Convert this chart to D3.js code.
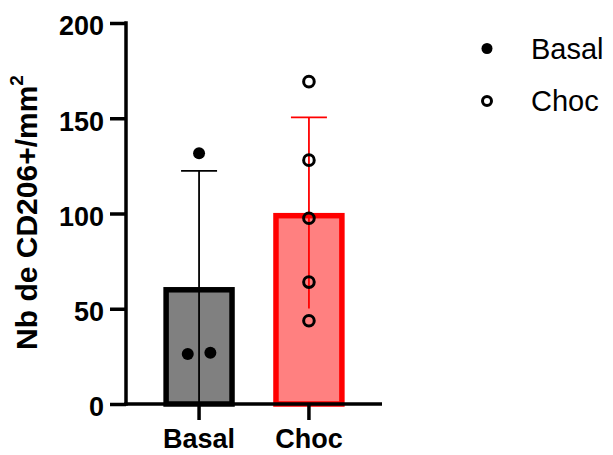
<!DOCTYPE html>
<html>
<head>
<meta charset="utf-8">
<script src="https://cdn.jsdelivr.net/npm/d3@7"></script>
<style>
  body { margin: 0; background: #fff; }
  svg { display: block; font-family: "Liberation Sans", Arial, sans-serif; }
</style>
</head>
<body>
<svg id="chart" width="613" height="455"></svg>
<script>
// datos
var grupos = ["Basal", "Choc"];
var medias = [61.4, 100.3];
var desvios = [61, 50.2];
var puntosBasal = [131.6, 26.2, 26.9];
var puntosChoc = [169.2, 128, 97.5, 64, 43.7];
var ticksY = [0, 50, 100, 150, 200];

var rellenos = ["#808080", "#ff8080"];
var bordes = ["#000000", "#ff0000"];

var svg = d3.select("#chart");

var x = d3.scaleBand().domain(grupos).range([126, 382]).paddingInner(0.35).paddingOuter(0.34);
var y = d3.scaleLinear().domain([0, 200]).range([404, 23]);

var bw = x.bandwidth(), sw = 5.5;
function cx(g) { return x(g) + bw / 2; }

// barras (borde hacia adentro)
svg.append("g").selectAll("rect")
  .data(grupos)
  .join("rect")
  .attr("x", function(d) { return x(d) + sw / 2; })
  .attr("y", function(d, i) { return y(medias[i]) + sw / 2; })
  .attr("width", bw - sw)
  .attr("height", function(d, i) { return y(0) - y(medias[i]) - sw / 2; })
  .attr("fill", function(d, i) { return rellenos[i]; })
  .attr("stroke", function(d, i) { return bordes[i]; })
  .attr("stroke-width", sw);

// barras de error
var capW = 36;
var eb = svg.append("g").selectAll("g")
  .data(grupos)
  .join("g")
  .attr("stroke", function(d, i) { return bordes[i]; })
  .attr("stroke-width", 1.8);
eb.append("line")
  .attr("x1", cx).attr("x2", cx)
  .attr("y1", function(d, i) { return y(Math.max(0, medias[i] - desvios[i])); })
  .attr("y2", function(d, i) { return y(medias[i] + desvios[i]); });
eb.append("line")
  .attr("x1", function(d) { return cx(d) - capW / 2; })
  .attr("x2", function(d) { return cx(d) + capW / 2; })
  .attr("y1", function(d, i) { return y(medias[i] + desvios[i]); })
  .attr("y2", function(d, i) { return y(medias[i] + desvios[i]); });
eb.filter(function(d, i) { return medias[i] - desvios[i] > 1; })
  .append("line")
  .attr("x1", function(d) { return cx(d) - capW / 2; })
  .attr("x2", function(d) { return cx(d) + capW / 2; })
  .attr("y1", function(d, i) { return y(medias[i] - desvios[i]); })
  .attr("y2", function(d, i) { return y(medias[i] - desvios[i]); });

// reparte puntos cercanos a los lados
function dispersar(vals) {
  var out = [];
  vals.forEach(function(v, i) {
    var vecinos = vals.filter(function(w) { return Math.abs(w - v) < 5; });
    var k = vecinos.indexOf(v);
    var off = vecinos.length > 1 ? (k - (vecinos.length - 1) / 2) * 22.6 : 0;
    out.push({ v: v, off: off });
  });
  return out;
}

svg.append("g").selectAll("circle")
  .data(dispersar(puntosBasal))
  .join("circle")
  .attr("cx", function(d) { return cx("Basal") + d.off; })
  .attr("cy", function(d) { return y(d.v); })
  .attr("r", 6)
  .attr("fill", "#000");

svg.append("g").selectAll("circle")
  .data(dispersar(puntosChoc))
  .join("circle")
  .attr("cx", function(d) { return cx("Choc") + d.off; })
  .attr("cy", function(d) { return y(d.v); })
  .attr("r", 5.3)
  .attr("fill", "none")
  .attr("stroke", "#000")
  .attr("stroke-width", 3);

// ejes
var ejeY = svg.append("g")
  .attr("transform", "translate(126,0)")
  .call(d3.axisLeft(y).tickValues(ticksY).tickSize(16).tickPadding(6).tickSizeOuter(0));
ejeY.select(".domain").attr("stroke-width", 3.5).attr("d", "M0," + (y(0) + 1.75) + "V" + (y(200) - 1.75));
ejeY.selectAll(".tick line").attr("stroke-width", 3.5);
ejeY.selectAll(".tick text")
  .attr("font-size", 27).attr("font-weight", "bold").attr("fill", "#000")
  .attr("dy", "0.44em").attr("font-family", "Liberation Sans, Arial, sans-serif");

var ejeX = svg.append("g")
  .attr("transform", "translate(0,404)")
  .call(d3.axisBottom(x).tickSize(16).tickPadding(9).tickSizeOuter(0));
ejeX.select(".domain").attr("stroke-width", 3.5).attr("d", "M124.25,0H382");
ejeX.selectAll(".tick line").attr("stroke-width", 3.5);
ejeX.selectAll(".tick text")
  .attr("font-size", 27).attr("font-weight", "bold").attr("fill", "#000")
  .attr("font-family", "Liberation Sans, Arial, sans-serif");

// titulo eje Y
var titulo = svg.append("text")
  .attr("transform", "translate(37,212.5) rotate(-90)")
  .attr("text-anchor", "middle")
  .attr("font-size", 30)
  .attr("font-weight", "bold")
  .text("Nb de CD206+/mm");
titulo.append("tspan")
  .attr("font-size", 19)
  .attr("dy", "-0.75em")
  .text("2");

// leyenda
var ley = svg.append("g").selectAll("g")
  .data(grupos)
  .join("g")
  .attr("transform", function(d, i) { return "translate(487," + (48.5 + i * 52.5) + ")"; });
ley.append("circle")
  .attr("r", function(d, i) { return i === 0 ? 5.5 : 4.5; })
  .attr("fill", function(d, i) { return i === 0 ? "#000" : "none"; })
  .attr("stroke", "#000")
  .attr("stroke-width", function(d, i) { return i === 0 ? 0 : 3; });
ley.append("text")
  .attr("x", 44)
  .attr("y", 10)
  .attr("font-size", 29)
  .text(function(d) { return d; });
</script>
</body>
</html>
